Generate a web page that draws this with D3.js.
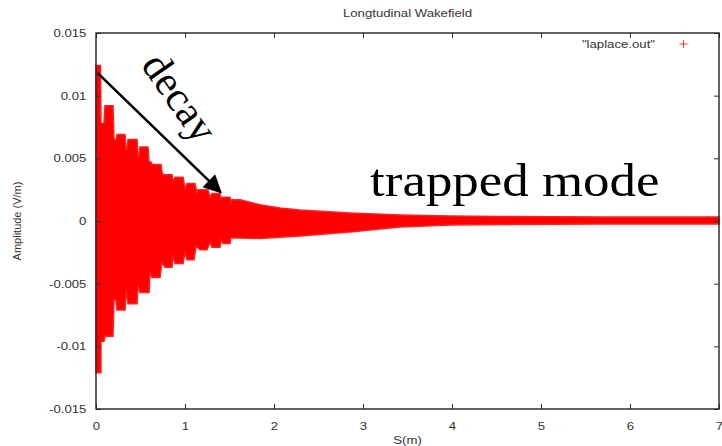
<!DOCTYPE html>
<html>
<head>
<meta charset="utf-8">
<script src="https://cdn.jsdelivr.net/npm/d3@7"></script>
<style>
    body { margin: 0; background: #fff; }
    svg { display: block; }
</style>
</head>
<body>
<div id="chart"></div>
<script>
// values (s in m, amplitude in V/m)
const upperS = [0, 0.051, 0.056, 0.090, 0.101, 0.191, 0.202, 0.225, 0.236, 0.326, 0.337, 0.348, 0.360, 0.461,
    0.472, 0.483, 0.494, 0.584, 0.596, 0.618, 0.629, 0.730, 0.742, 0.753, 0.854, 0.865, 0.888, 0.978, 1.000,
    1.022, 1.112, 1.135, 1.146, 1.258, 1.281, 1.303, 1.393, 1.404, 1.416, 1.506, 1.517, 1.528, 1.618,
    1.843, 2.067, 2.292, 2.854, 3.416, 3.978, 4.539, 5.663, 7.0];
const upperAmp = [0.0124, 0.0124, 0.0078, 0.0078, 0.0092, 0.0092, 0.0065, 0.0065, 0.0069, 0.0069, 0.0057, 0.0057,
    0.0065, 0.0065, 0.0051, 0.0051, 0.0059, 0.0059, 0.0047, 0.0047, 0.0045, 0.0045, 0.0039, 0.0037, 0.0037,
    0.0031, 0.0035, 0.0035, 0.0026, 0.0030, 0.0030, 0.0022, 0.0025, 0.0025, 0.0019, 0.0022, 0.0022, 0.00175,
    0.0019, 0.0019, 0.0015, 0.0017, 0.0017, 0.0013, 0.00104, 0.00088, 0.00064, 0.00048, 0.0004, 0.00036,
    0.00032, 0.00032];

const lowerS = [0, 0.056, 0.056, 0.090, 0.101, 0.191, 0.202, 0.225, 0.236, 0.326, 0.337, 0.360, 0.461, 0.472,
    0.494, 0.596, 0.607, 0.629, 0.719, 0.742, 0.775, 0.854, 0.865, 0.888, 0.978, 1.000, 1.022, 1.101, 1.124,
    1.169, 1.247, 1.281, 1.303, 1.393, 1.404, 1.427, 1.506, 1.517, 1.539, 1.618, 1.843, 2.067, 2.292, 2.854,
    3.416, 3.978, 4.539, 5.663, 7.0];
const lowerAmp = [-0.0121, -0.0121, -0.0096, -0.0096, -0.0092, -0.0092, -0.0063, -0.0063, -0.0071, -0.0071,
    -0.0055, -0.0066, -0.0066, -0.0051, -0.0057, -0.0057, -0.0041, -0.0045, -0.0045, -0.0033, -0.0037, -0.0037,
    -0.0027, -0.0034, -0.0034, -0.0025, -0.0031, -0.0031, -0.0020, -0.0023, -0.0023, -0.0017, -0.0021, -0.0021,
    -0.0015, -0.0018, -0.0018, -0.0013, -0.00135, -0.00135, -0.0014, -0.0013, -0.0012, -0.00088, -0.00048,
    -0.00032, -0.00028, -0.00024, -0.00024];

const xTicks = [0, 1, 2, 3, 4, 5, 6, 7];
const yTicks = [-0.015, -0.01, -0.005, 0, 0.005, 0.01, 0.015];
const yTickLabels = ["-0.015", "-0.01", "-0.005", "0", "0.005", "0.01", "0.015"];

const arrowFrom = [0.02, 0.0118];
const arrowTo = [1.4, 0.0023];
const decayAt = [0.93, 0.0098];
const trappedAt = [3.08, 0.0020];

const width = 722;
const height = 446;
const margin = { top: 33, right: 3, bottom: 37, left: 96 };
const stretch = "scale(1.2,1)";

const svg = d3.select("#chart")
    .append("svg")
    .attr("width", width)
    .attr("height", height)
    .style("font-family", "'Liberation Sans', Arial, sans-serif");

const x = d3.scaleLinear().domain([0, 7]).range([margin.left, width - margin.right]);
const y = d3.scaleLinear().domain([-0.015, 0.015]).range([height - margin.bottom, margin.top]);

// data band
const upper = upperS.map((s, i) => [s, upperAmp[i]]);
const lower = lowerS.map((s, i) => [s, lowerAmp[i]]).reverse();
const line = d3.line().x(d => x(d[0])).y(d => y(d[1]));

svg.append("path")
    .attr("d", line(upper.concat(lower)) + "Z")
    .attr("fill", "#ff0000")
    .attr("stroke", "#ff2020")
    .attr("stroke-width", 1.5)
    .attr("stroke-linejoin", "miter");

// axes, ticks point inwards on all four sides
function styleAxis(g) {
    g.select(".domain").remove();
    g.selectAll("line").attr("stroke", "#333").attr("stroke-width", 1);
    g.selectAll("text").attr("fill", "#333").attr("font-size", 11);
}

svg.append("g")
    .attr("transform", `translate(${margin.left},0)`)
    .call(d3.axisLeft(y).tickValues(yTicks).tickSize(-5).tickPadding(8)
        .tickFormat((d, i) => yTickLabels[i]))
    .call(styleAxis)
    .call(g => g.selectAll("text").attr("transform", stretch));

svg.append("g")
    .attr("transform", `translate(0,${height - margin.bottom})`)
    .call(d3.axisBottom(x).tickValues(xTicks).tickSize(-5).tickPadding(13).tickFormat(d3.format("d")))
    .call(styleAxis)
    .call(g => g.selectAll("text").attr("transform", stretch).attr("x", 0));

svg.append("g")
    .attr("transform", `translate(0,${margin.top})`)
    .call(d3.axisTop(x).tickValues(xTicks).tickSize(-5).tickFormat(""))
    .call(styleAxis);

svg.append("g")
    .attr("transform", `translate(${width - margin.right},0)`)
    .call(d3.axisRight(y).tickValues(yTicks).tickSize(-5).tickFormat(""))
    .call(styleAxis);

svg.append("rect")
    .attr("x", margin.left)
    .attr("y", margin.top)
    .attr("width", width - margin.left - margin.right)
    .attr("height", height - margin.top - margin.bottom)
    .attr("fill", "none")
    .attr("stroke", "#222")
    .attr("stroke-width", 1.4);

// titles
const midX = (margin.left + width - margin.right) / 2;

svg.append("g")
    .attr("transform", `translate(${midX},17) ${stretch}`)
    .append("text")
    .attr("text-anchor", "middle")
    .attr("font-size", 11)
    .attr("fill", "#333")
    .text("Longtudinal Wakefield");

svg.append("g")
    .attr("transform", `translate(${midX},444) ${stretch}`)
    .append("text")
    .attr("text-anchor", "middle")
    .attr("font-size", 11)
    .attr("fill", "#333")
    .text("S(m)");

svg.append("text")
    .attr("transform", `translate(21,${y(0)}) rotate(-90)`)
    .attr("text-anchor", "middle")
    .attr("font-size", 11)
    .attr("fill", "#333")
    .text("Amplitude (V/m)");

// legend
svg.append("g")
    .attr("transform", `translate(655,48) ${stretch}`)
    .append("text")
    .attr("text-anchor", "end")
    .attr("font-size", 11)
    .attr("fill", "#333")
    .text("\"laplace.out\"");

svg.append("path")
    .attr("d", "M679.5,44H687.5M683.5,40V48")
    .attr("stroke", "#ff0000")
    .attr("stroke-width", 0.8);

// annotations
svg.append("defs").append("marker")
    .attr("id", "head")
    .attr("viewBox", "0 0 10 10")
    .attr("refX", 9)
    .attr("refY", 5)
    .attr("markerWidth", 8)
    .attr("markerHeight", 7)
    .attr("markerUnits", "strokeWidth")
    .attr("orient", "auto")
    .append("path")
    .attr("d", "M0,0L10,5L0,10Z")
    .attr("fill", "#000");

svg.append("line")
    .attr("x1", x(arrowFrom[0]))
    .attr("y1", y(arrowFrom[1]))
    .attr("x2", x(arrowTo[0]))
    .attr("y2", y(arrowTo[1]))
    .attr("stroke", "#000")
    .attr("stroke-width", 2.6)
    .attr("marker-end", "url(#head)");

svg.append("text")
    .attr("transform", `translate(${x(decayAt[0])},${y(decayAt[1])}) rotate(55)`)
    .attr("text-anchor", "middle")
    .attr("dy", "0.3em")
    .attr("font-family", "'Liberation Serif', 'Times New Roman', serif")
    .attr("font-size", 42)
    .attr("fill", "#000")
    .text("decay");

svg.append("g")
    .attr("transform", `translate(${x(trappedAt[0])},${y(trappedAt[1])}) scale(1.15,1)`)
    .append("text")
    .attr("font-family", "'Liberation Serif', 'Times New Roman', serif")
    .attr("font-size", 46)
    .attr("fill", "#000")
    .text("trapped mode");
</script>
</body>
</html>
